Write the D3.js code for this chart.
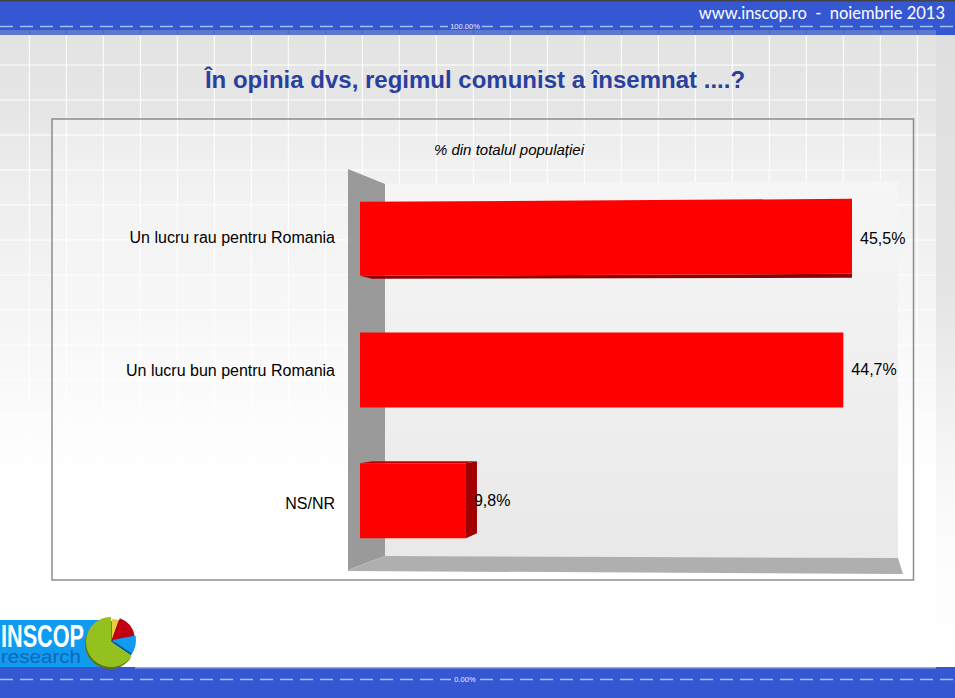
<!DOCTYPE html>
<html><head><meta charset="utf-8">
<script src="https://cdn.jsdelivr.net/npm/d3@7"></script>
<style>html,body{margin:0;padding:0;background:#fff;overflow:hidden}svg{display:block}text{font-family:"Liberation Sans",Arial,sans-serif}</style>
</head><body><div id="c"></div>
<script>
const categories = ["Un lucru rau pentru Romania","Un lucru bun pentru Romania","NS/NR"];
const values = [45.5,44.7,9.8];
const valueLabels = ["45,5%","44,7%","9,8%"];
const titleText = "În opinia dvs, regimul comunist a însemnat ....?";
const subtitleText = "% din totalul populației";
const headerText = "www.inscop.ro  -  noiembrie 2013";
const logoShares = [5.5,16.5,12.5,65.5];
const logoColors = ["#e8cf3a","#c00010","#109bf0","#95c11f"];

const W=955,H=698,BLUE="#3557d2",DASH="#9cc4f5";
const svg=d3.select("#c").append("svg").attr("width",W).attr("height",H);
const defs=svg.append("defs");
function gradient(id,stops){
  const g=defs.append("linearGradient").attr("id",id).attr("x1",0).attr("x2",0).attr("y1",0).attr("y2",1);
  stops.forEach(([o,c])=>g.append("stop").attr("offset",o).attr("stop-color",c));
}
gradient("bg",[[0,"#e3e3e2"],[.13,"#e6e6e6"],[.25,"#eeeeee"],[.45,"#f5f5f5"],[.7,"#ffffff"],[1,"#ffffff"]]);
gradient("strip",[[0,"#dfdfdf"],[.4,"#e4e4e4"],[.65,"#f4f4f4"],[.8,"#fcfcfc"],[1,"#ffffff"]]);
gradient("back",[[0,"#f6f6f6"],[1,"#e9e9e9"]]);

// page background
svg.append("rect").attr("y",30).attr("width",936).attr("height",640).attr("fill","url(#bg)");
svg.append("rect").attr("x",936).attr("y",30).attr("width",19).attr("height",640).attr("fill","url(#strip)");
const gridX=d3.range(29.3,936,37), gridY=d3.range(65,540,35);
svg.append("g").selectAll("line").data(gridX).join("line")
 .attr("x1",d=>d).attr("x2",d=>d).attr("y1",35).attr("y2",540).attr("stroke","#fff");
svg.append("g").selectAll("line").data(gridY).join("line")
 .attr("x1",0).attr("x2",936).attr("y1",d=>d).attr("y2",d=>d).attr("stroke","#fff");

// header and footer bands
svg.append("rect").attr("width",W).attr("height",35).attr("fill",BLUE);
svg.append("rect").attr("width",W).attr("height",1.5).attr("fill","#444");
svg.append("rect").attr("y",30).attr("width",936).attr("height",5).attr("fill","#5f78cf");
svg.append("g").selectAll("line").data(gridX).join("line")
 .attr("x1",d=>d).attr("x2",d=>d).attr("y1",30).attr("y2",35).attr("stroke","#4a66cc");
svg.append("rect").attr("y",667).attr("width",W).attr("height",31).attr("fill",BLUE);
svg.append("rect").attr("y",667).attr("x",135).attr("width",801).attr("height",1.5).attr("fill","#97a6e2");
[26.5,679.5].forEach(yy=>svg.append("line").attr("x1",0).attr("x2",W).attr("y1",yy).attr("y2",yy)
   .attr("stroke",DASH).attr("stroke-width",1.5).attr("stroke-dasharray","13 7"));
svg.append("rect").attr("x",448).attr("y",23).attr("width",34).attr("height",7).attr("fill",BLUE);
svg.append("rect").attr("x",451).attr("y",675).attr("width",27).attr("height",8).attr("fill",BLUE);
svg.append("text").attr("x",465).attr("y",29).attr("text-anchor","middle").attr("font-size",7.5).attr("fill","#e8ecff").text("100.00%");
svg.append("text").attr("x",465).attr("y",682).attr("text-anchor","middle").attr("font-size",7.5).attr("fill","#e8ecff").text("0.00%");
svg.append("text").attr("x",945).attr("y",19).attr("text-anchor","end").attr("font-size",16.5).attr("fill","#fff")
 .style("font-family","Lato").style("white-space","pre").text(headerText);

// title
svg.append("text").attr("x",475).attr("y",88).attr("text-anchor","middle").attr("font-size",24).attr("font-weight","bold").attr("fill","#2a409f").text(titleText);

// frame
svg.append("rect").attr("x",52).attr("y",119).attr("width",861.5).attr("height",461).attr("fill","#fff").attr("fill-opacity",.25).attr("stroke","#8c8c8c").attr("stroke-width",1.5);
svg.append("text").attr("x",509).attr("y",155).attr("text-anchor","middle").attr("font-size",15).attr("font-style","italic").attr("fill","#000").text(subtitleText);

// 3D walls
const poly=(pts,fill)=>svg.append("polygon").attr("points",pts.map(p=>p.join(",")).join(" ")).attr("fill",fill);
poly([[385,184],[898,181],[898,558],[385,556]],"url(#back)");
poly([[348,169],[385,184],[385,556],[348,570]],"#9a9a9a");
poly([[348,570],[385,556],[898,558],[903,574],[348,571]],"#afafaf");

// scales
const x=d3.scaleLinear().domain([0,45.5]).range([360,852]);
const y=d3.scaleBand().domain(categories).range([174,566]).paddingInner(.426).paddingOuter(.213);
const row=svg.append("g").selectAll("g").data(values).join("g");
row.each(function(v,i){
  const g=d3.select(this),c=categories[i],l=x(0),r=x(v),t=y(c),b=t+y.bandwidth();
  const P=(pts,fill)=>g.append("polygon").attr("points",pts.map(p=>p.join(",")).join(" ")).attr("fill",fill);
  if(i===0){            // slightly tilted front face with a dark lower edge
    P([[l,b-1],[r,b-3],[r,b+1],[l+12,b+2]],"#900000");
    P([[l,t],[r,t-3],[r,b-3],[l,b-1]],"#ff0000");
  } else if(i===2){     // box with visible top and side
    P([[l,t],[l+12,t-2],[r+11,t-2],[r,t]],"#c00000");
    P([[r,t],[r+11,t-2],[r+11,b-5],[r,b]],"#a00000");
    P([[l,t],[r,t],[r,b],[l,b]],"#ff0000");
  } else {
    P([[l,t],[r,t],[r,b],[l,b]],"#ff0000");
  }
});

// category labels
const ax=svg.append("g").attr("transform","translate(341,0)").call(d3.axisLeft(y).tickSize(0).tickPadding(6));
ax.select(".domain").remove();
ax.selectAll("text").attr("font-size",16).attr("fill","#000").style("font-family","'Liberation Sans'")
 .attr("dy",(d,i)=>["0.24em","0.36em","0.5em"][i]);
// value labels
svg.append("g").selectAll("text").data(values).join("text")
 .attr("x",d=>x(d)+8).attr("y",(d,i)=>y(categories[i])+y.bandwidth()/2+5)
 .attr("font-size",16).attr("fill","#000").text((d,i)=>valueLabels[i]);

// logo
svg.append("rect").attr("y",620).attr("width",101).attr("height",47).attr("fill","#109bf0");
svg.append("text").attr("x",1).attr("y",647).attr("font-size",32).attr("font-weight","bold").attr("fill","#fff").attr("textLength",83).attr("lengthAdjust","spacingAndGlyphs").text("INSCOP");
svg.append("text").attr("x",1).attr("y",663).attr("font-size",18).attr("fill","#0f66b5").attr("textLength",80).attr("lengthAdjust","spacingAndGlyphs").text("research");
const slices=d3.pie().sort(null)(logoShares);
const radii=[21,23,24,25];
const pg=svg.append("g").attr("transform","translate(111,641)");
const sl=pg.selectAll("g").data(slices).join("g").attr("transform",(d,i)=>i===3?"translate(0,1)":"translate(1,-1)");
sl.append("path").attr("transform","translate(-1,2)").attr("d",(d,i)=>d3.arc().innerRadius(0).outerRadius(radii[i])(d)).attr("fill",(d,i)=>d3.color(logoColors[i]).darker(1.4));
sl.append("path").attr("d",(d,i)=>d3.arc().innerRadius(0).outerRadius(radii[i])(d)).attr("fill",(d,i)=>logoColors[i]);
</script>
</body></html>
